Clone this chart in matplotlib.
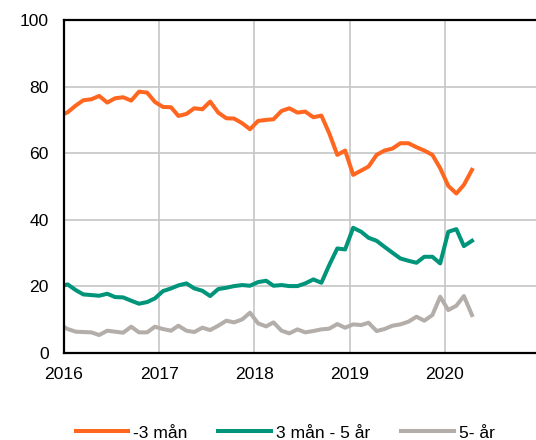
import matplotlib
matplotlib.use("Agg")
import matplotlib.pyplot as plt
import matplotlib.dates as mdates
import pandas as pd

plt.rcParams['font.family'] = ['Liberation Sans', 'DejaVu Sans']

# Monthly observations, Dec 2015 - Apr 2020 (plotted mid-month)
months = pd.date_range("2015-12-01", "2020-04-01", freq="MS") + pd.Timedelta(days=14)
years = pd.date_range("2016-01-01", "2020-01-01", freq="YS")

short = [71.2, 72.3, 74.3, 75.9, 76.2, 77.2, 75.2, 76.5, 76.8, 75.8, 78.5, 78.2, 75.4,
         73.9, 73.8, 71.2, 71.8, 73.5, 73.2, 75.5, 72.2, 70.5, 70.4, 69.0, 67.2,
         69.7, 70.0, 70.2, 72.7, 73.5, 72.2, 72.5, 70.8, 71.3, 66.0, 59.5, 60.8,
         53.5, 54.8, 56.0, 59.5, 60.8, 61.4, 63.0, 63.0, 61.8, 60.8, 59.5, 55.5,
         50.2, 47.9, 50.5, 55.0]
mid = [20.0, 20.6, 18.9, 17.6, 17.4, 17.2, 17.8, 16.8, 16.7, 15.7, 14.8, 15.3, 16.4,
       18.6, 19.4, 20.3, 20.9, 19.4, 18.7, 17.1, 19.2, 19.6, 20.1, 20.4, 20.2,
       21.3, 21.7, 20.2, 20.4, 20.1, 20.1, 20.9, 22.1, 21.1, 26.4, 31.4, 31.1,
       37.6, 36.4, 34.6, 33.7, 31.9, 30.1, 28.4, 27.7, 27.1, 28.9, 28.9, 26.9,
       36.4, 37.2, 32.1, 33.7]
long = [8.6, 7.2, 6.4, 6.3, 6.2, 5.4, 6.7, 6.4, 6.1, 7.9, 6.2, 6.2, 7.9,
        7.2, 6.7, 8.2, 6.7, 6.3, 7.6, 6.9, 8.2, 9.7, 9.2, 10.1, 12.1,
        8.9, 8.0, 9.2, 6.7, 5.9, 7.1, 6.2, 6.6, 7.1, 7.3, 8.7, 7.6,
        8.6, 8.4, 9.1, 6.6, 7.2, 8.2, 8.6, 9.4, 10.9, 9.7, 11.4, 16.9,
        12.9, 14.2, 17.1, 11.4]

labels = ["-3 mån", "3 mån - 5 år", "5- år"]
colors = ["#ff6720", "#00957a", "#b4aeaa"]

fig = plt.figure(figsize=(5.36, 4.40), dpi=100)
ax = fig.add_axes([0.1194, 0.1977, 0.888, 0.7568])

for vals, lab, col in zip([short, mid, long], labels, colors):
    ax.plot(months, vals, color=col, linewidth=2.9, label=lab, solid_joinstyle="round")

ax.set_xlim(pd.Timestamp("2016-01-01"), pd.Timestamp("2021-01-01"))
ax.set_ylim(0, 100)
ax.set_yticks([0, 20, 40, 60, 80, 100])
ax.set_xticks(years)
ax.xaxis.set_major_formatter(mdates.DateFormatter("%Y"))

ax.grid(True, color="#c6c6c6", linewidth=1.2)
ax.set_axisbelow(True)
for side in ["left", "bottom", "top"]:
    ax.spines[side].set_color("black")
    ax.spines[side].set_linewidth(1.6)
ax.spines["right"].set_visible(False)
ax.tick_params(axis="both", length=0, labelsize=12.6)
ax.tick_params(axis="y", pad=11)
ax.tick_params(axis="x", pad=10)

fig.legend(loc="center", bbox_to_anchor=(0.532, 0.016), ncol=3, frameon=False,
           fontsize=12.6, handlelength=3.0, handletextpad=0.3, columnspacing=1.75)

fig.savefig("out.png", dpi=100)
